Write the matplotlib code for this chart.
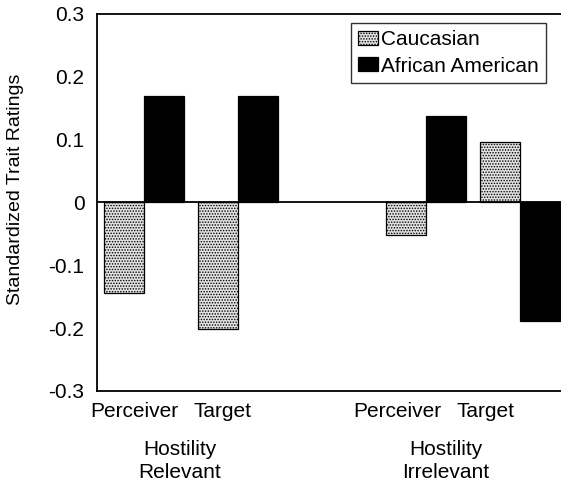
import numpy as np
import matplotlib
matplotlib.use('Agg')
import matplotlib.pyplot as plt

plt.rcParams['font.family'] = ['Liberation Sans', 'DejaVu Sans']
plt.rcParams['hatch.color'] = '#9a9a9a'
plt.rcParams['hatch.linewidth'] = 0.7

# data
series = ['Caucasian', 'African American']
caucasian = [-0.144, -0.201, -0.052, 0.096]
african_american = [0.170, 0.170, 0.137, -0.188]
conditions = ['Perceiver', 'Target', 'Perceiver', 'Target']
groups = ['Hostility\nRelevant', 'Hostility\nIrrelevant']

x = np.array([0, 1, 3, 4])  # empty slot between the two groups
width = 0.425

fig = plt.figure(figsize=(5.61, 4.86), dpi=100)
ax = fig.add_axes([0.1729, 0.1955, 0.838, 0.7757])

ax.bar(x - width / 2, caucasian, width, color='#e2e2e2', edgecolor='black',
       hatch='......', linewidth=0.9, label=series[0])
ax.bar(x + width / 2, african_american, width, color='black', edgecolor='black',
       linewidth=0.9, label=series[1])
ax.axhline(0, color='black', linewidth=1.3)

ax.set_xlim(-0.5, 4.5)
ax.set_ylim(-0.3, 0.3)
ax.yaxis.set_major_locator(plt.MultipleLocator(0.1))
ax.yaxis.set_major_formatter(plt.FuncFormatter(lambda v, p: '0' if abs(v) < 1e-9 else f'{v:.1f}'))
ax.tick_params(axis='y', length=0, pad=9, labelsize=15)
ax.set_xticks([])
for s in ax.spines.values():
    s.set_linewidth(1.3)
ax.spines['right'].set_visible(False)

ax.set_ylabel('Standardized Trait Ratings', fontsize=14)
ax.yaxis.set_label_coords(-0.155, 0.535)

# condition labels sit a little left of the bar pairs, as in the original
label_shift = [-0.1, -0.16, -0.31, -0.37]
for xi, name, sh in zip(x, conditions, label_shift):
    ax.text(xi + sh, -0.318, name, ha='center', va='top', fontsize=15)
for xc, g in zip([0.38, 3.21], groups):
    ax.text(xc, -0.378, g, ha='center', va='top', fontsize=15, linespacing=1.3)

leg = ax.legend(loc='upper left', bbox_to_anchor=(0.54, 0.976), fontsize=15,
                frameon=True, fancybox=False, borderpad=0.35, labelspacing=0.35,
                handlelength=0.95, handleheight=0.65, handletextpad=0.15,
                borderaxespad=0)
leg.get_frame().set_edgecolor('black')
leg.get_frame().set_linewidth(1.0)

fig.savefig('out.png', dpi=100)
